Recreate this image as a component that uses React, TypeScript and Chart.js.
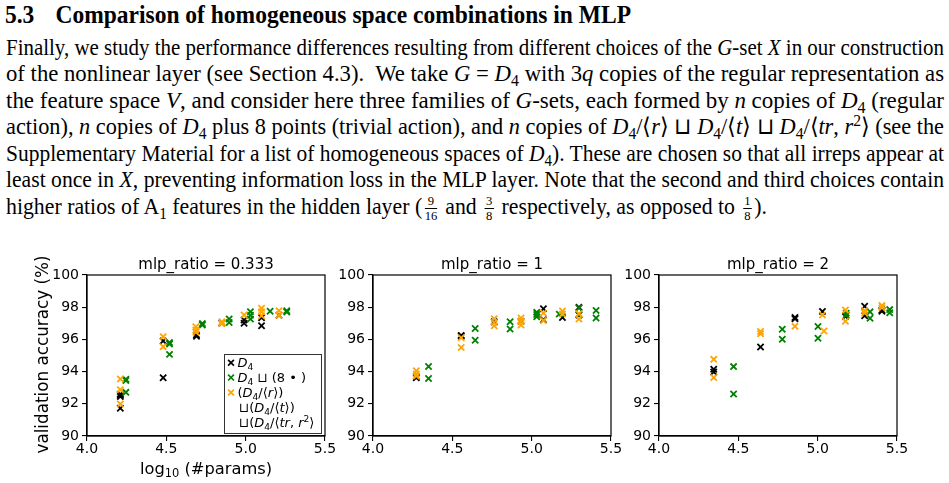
import React, { useEffect, useLayoutEffect, useRef } from 'react';
import { Chart, registerables } from 'chart.js';
Chart.register(...registerables);

// ---------------- data ----------------
const xTicks = [4.0, 4.5, 5.0, 5.5];
const yTicks = [90, 92, 94, 96, 98, 100];
const panelTitles = ['mlp_ratio = 0.333', 'mlp_ratio = 1', 'mlp_ratio = 2'];
const seriesNames = ['D4', 'D4 ⊔ (8 •)', '(D4/⟨r⟩) ⊔(D4/⟨t⟩) ⊔(D4/⟨tr, r²⟩'];
const seriesColors = ['#000000', '#008000', '#ffa500'];

// panel 1 : mlp_ratio = 0.333
const p1RegX = [4.21, 4.21, 4.21, 4.21, 4.48, 4.48, 4.69, 4.69, 4.85, 4.99, 4.99, 5.10, 5.10, 5.21];
const p1RegY = [91.72, 92.45, 92.6, 92.53, 93.62, 95.9, 96.2, 96.28, 97.0, 97.0, 97.2, 97.35, 96.85, 97.5];
const p1TrivX = [4.245, 4.245, 4.245, 4.52, 4.52, 4.52, 4.727, 4.727, 4.896, 4.896, 5.03, 5.03, 5.03, 5.154, 5.259, 5.259];
const p1TrivY = [93.45, 93.52, 92.71, 95.72, 95.8, 95.07, 96.9, 96.98, 97.27, 97.05, 97.72, 97.5, 97.27, 97.75, 97.7, 97.78];
const p1HomX = [4.21, 4.21, 4.21, 4.48, 4.48, 4.686, 4.686, 4.686, 4.85, 4.85, 4.99, 5.10, 5.10, 5.10, 5.21, 5.21];
const p1HomY = [93.54, 92.88, 91.99, 96.17, 95.55, 96.79, 96.58, 96.44, 97.1, 96.98, 97.52, 97.93, 97.72, 97.47, 97.78, 97.5];

// panel 2 : mlp_ratio = 1
const p2RegX = [4.273, 4.273, 4.556, 4.556, 4.764, 4.933, 5.074, 5.074, 5.194, 5.298, 5.298];
const p2RegY = [93.62, 93.7, 96.2, 96.25, 97.1, 97.12, 97.9, 97.22, 97.36, 97.99, 97.52];
const p2TrivX = [4.35, 4.35, 4.644, 4.644, 4.864, 4.864, 5.032, 5.032, 5.032, 5.174, 5.298, 5.298, 5.406, 5.406];
const p2TrivY = [94.32, 93.57, 96.68, 95.95, 97.1, 96.65, 97.68, 97.41, 97.55, 97.57, 97.95, 97.55, 97.79, 97.33];
const p2HomX = [4.273, 4.273, 4.273, 4.556, 4.556, 4.764, 4.764, 4.764, 4.933, 4.933, 4.933, 5.074, 5.074, 5.194, 5.194, 5.298, 5.298];
const p2HomY = [94.05, 93.85, 93.72, 96.1, 95.5, 97.28, 97.05, 96.84, 97.33, 97.12, 96.9, 97.64, 97.18, 97.76, 97.58, 97.6, 97.27];

// panel 3 : mlp_ratio = 2
const p3RegX = [4.345, 4.345, 4.64, 4.857, 4.857, 5.03, 5.175, 5.296, 5.296, 5.405, 5.405];
const p3RegY = [94.14, 93.98, 95.53, 97.36, 97.28, 97.74, 97.42, 98.06, 97.47, 97.82, 97.75];
const p3TrivX = [4.47, 4.47, 4.777, 4.777, 5.002, 5.002, 5.18, 5.18, 5.33, 5.33, 5.454, 5.454];
const p3TrivY = [94.31, 92.61, 96.63, 96.01, 96.8, 96.07, 97.62, 97.5, 97.71, 97.31, 97.85, 97.66];
const p3HomX = [4.345, 4.345, 4.64, 4.64, 4.857, 5.03, 5.04, 5.175, 5.175, 5.296, 5.296, 5.405, 5.405];
const p3HomY = [94.76, 93.63, 96.49, 96.35, 96.81, 97.51, 96.52, 97.83, 97.13, 97.79, 97.64, 98.11, 97.96];

const panelSeries = [
  [[p1RegX, p1RegY], [p1TrivX, p1TrivY], [p1HomX, p1HomY]],
  [[p2RegX, p2RegY], [p2TrivX, p2TrivY], [p2HomX, p2HomY]],
  [[p3RegX, p3RegY], [p3TrivX, p3TrivY], [p3HomX, p3HomY]],
];

// ---------------- rich text on canvas ----------------
type Seg = { t: string; it?: boolean; sub?: boolean; sup?: boolean };
const FAM = '"DejaVu Sans", sans-serif';
function segFont(s: Seg, size: number) {
  const sz = s.sub || s.sup ? size * 0.7 : size;
  return `${s.it ? 'italic ' : ''}${sz}px ${FAM}`;
}
function richWidth(ctx: CanvasRenderingContext2D, segs: Seg[], size: number) {
  let w = 0;
  for (const s of segs) {
    ctx.font = segFont(s, size);
    w += ctx.measureText(s.t).width;
  }
  return w;
}
// y = vertical middle of the text
function drawRich(ctx: CanvasRenderingContext2D, segs: Seg[], x: number, y: number, size: number, align: 'left' | 'center') {
  const w = richWidth(ctx, segs, size);
  let cx = align === 'center' ? x - w / 2 : x;
  const base = y + size * 0.36;
  ctx.textAlign = 'left';
  ctx.textBaseline = 'alphabetic';
  ctx.fillStyle = '#000';
  for (const s of segs) {
    ctx.font = segFont(s, size);
    const dy = s.sub ? size * 0.22 : s.sup ? -size * 0.38 : 0;
    ctx.fillText(s.t, cx, base + dy);
    cx += ctx.measureText(s.t).width;
  }
}

const legendRows: { marker: number | null; segs: Seg[] }[] = [
  { marker: 0, segs: [{ t: 'D', it: true }, { t: '4', sub: true }] },
  { marker: 1, segs: [{ t: 'D', it: true }, { t: '4', sub: true }, { t: ' ⊔ (8 • )' }] },
  { marker: 2, segs: [{ t: '(' }, { t: 'D', it: true }, { t: '4', sub: true }, { t: '/⟨' }, { t: 'r', it: true }, { t: '⟩)' }] },
  { marker: null, segs: [{ t: '⊔(' }, { t: 'D', it: true }, { t: '4', sub: true }, { t: '/⟨' }, { t: 't', it: true }, { t: '⟩)' }] },
  { marker: null, segs: [{ t: '⊔(' }, { t: 'D', it: true }, { t: '4', sub: true }, { t: '/⟨' }, { t: 'tr', it: true }, { t: ', ' }, { t: 'r', it: true }, { t: '2', sup: true }, { t: '⟩' }] },
];

function drawX(ctx: CanvasRenderingContext2D, x: number, y: number, r: number, color: string) {
  ctx.save();
  ctx.strokeStyle = color;
  ctx.lineWidth = 1.7;
  ctx.beginPath();
  ctx.moveTo(x - r, y - r); ctx.lineTo(x + r, y + r);
  ctx.moveTo(x - r, y + r); ctx.lineTo(x + r, y - r);
  ctx.stroke();
  ctx.restore();
}

interface PanelCfg {
  idx: number; left: number; top: number; w: number; h: number;
  yAxisW: number; padRight: number; padTop: number; xAxisH: number;
  showYTitle: boolean; showXTitle: boolean; showLegend: boolean;
}

function Panel({ cfg }: { cfg: PanelCfg }) {
  const ref = useRef<HTMLCanvasElement>(null);
  useEffect(() => {
    const canvas = ref.current!;
    const series = panelSeries[cfg.idx];
    const orders = [2, 1, 0];
    const datasets = series.map(([xs, ys], k) => ({
      label: seriesNames[k],
      data: xs.map((x, i) => ({ x, y: ys[i] })),
      pointStyle: 'crossRot',
      pointRadius: 4.4,
      pointBorderWidth: 1.8,
      borderColor: seriesColors[k],
      backgroundColor: seriesColors[k],
      showLine: false,
      order: orders[k],
    }));
    const deco = {
      id: 'deco',
      afterDraw(chart: any) {
        const ctx: CanvasRenderingContext2D = chart.ctx;
        const a = chart.chartArea;
        ctx.save();
        ctx.strokeStyle = '#000';
        ctx.lineWidth = 1.2;
        ctx.strokeRect(a.left, a.top, a.right - a.left, a.bottom - a.top);
        // title
        drawRich(ctx, [{ t: panelTitles[cfg.idx] }], (a.left + a.right) / 2, a.top - 11, 15, 'center');
        if (cfg.showXTitle) {
          drawRich(ctx, [{ t: 'log' }, { t: '10', sub: true }, { t: ' (#params)' }], (a.left + a.right) / 2, a.bottom + 32, 16.3, 'center');
        }
        if (cfg.showYTitle) {
          ctx.save();
          ctx.translate(a.left - 45, (a.top + a.bottom) / 2 - 1);
          ctx.rotate(-Math.PI / 2);
          drawRich(ctx, [{ t: 'validation accuracy (%)' }], 0, 0, 16.8, 'center');
          ctx.restore();
        }
        if (cfg.showLegend) {
          const bx = a.left + 137, by = a.top + 79, bw = 97, bh = 79;
          ctx.fillStyle = 'rgba(255,255,255,0.85)';
          ctx.fillRect(bx, by, bw, bh);
          ctx.strokeStyle = '#333';
          ctx.lineWidth = 1;
          ctx.strokeRect(bx + 0.5, by + 0.5, bw, bh);
          legendRows.forEach((row, i) => {
            const cy = by + 8.7 + i * 14.9;
            if (row.marker !== null) drawX(ctx, bx + 7, cy, 2.9, seriesColors[row.marker]);
            drawRich(ctx, row.segs, bx + (row.marker !== null ? 13.5 : 15), cy, 13, 'left');
          });
        }
        ctx.restore();
      },
    };
    const tickFont = { family: FAM, size: 14 };
    const chart = new Chart(canvas, {
      type: 'scatter',
      data: { datasets } as any,
      options: {
        responsive: false,
        animation: false,
        devicePixelRatio: 1,
        layout: { padding: { left: 0, right: cfg.padRight, top: cfg.padTop, bottom: 0 } },
        plugins: { legend: { display: false }, tooltip: { enabled: false }, title: { display: false } },
        scales: {
          x: {
            type: 'linear', min: xTicks[0], max: xTicks[xTicks.length - 1],
            afterBuildTicks: (s: any) => { s.ticks = xTicks.map((v) => ({ value: v })); },
            ticks: { callback: (v: any) => Number(v).toFixed(1), font: tickFont, color: '#000', padding: 0, maxRotation: 0, autoSkip: false },
            grid: { display: true, drawOnChartArea: false, drawTicks: true, tickLength: 5, color: '#000', lineWidth: 1.1 },
            border: { display: true, color: '#000', width: 1.2 },
            afterFit: (s: any) => { s.height = cfg.xAxisH; s.paddingLeft = 0; s.paddingRight = 0; },
          },
          y: {
            type: 'linear', min: yTicks[0], max: yTicks[yTicks.length - 1],
            afterBuildTicks: (s: any) => { s.ticks = yTicks.map((v) => ({ value: v })); },
            ticks: { font: tickFont, color: '#000', padding: 3, autoSkip: false },
            grid: { display: true, drawOnChartArea: false, drawTicks: true, tickLength: 5, color: '#000', lineWidth: 1.1 },
            border: { display: true, color: '#000', width: 1.2 },
            afterFit: (s: any) => { s.width = cfg.yAxisW; s.paddingTop = 0; s.paddingBottom = 0; },
          },
        },
      } as any,
      plugins: [deco],
    });
    return () => chart.destroy();
  }, []);
  return (
    <canvas ref={ref} width={cfg.w} height={cfg.h}
      style={{ position: 'absolute', left: cfg.left, top: cfg.top, width: cfg.w, height: cfg.h }} />
  );
}

const panels: PanelCfg[] = [
  { idx: 0, left: 0, top: 245, w: 345, h: 238, yAxisW: 87, padRight: 20, padTop: 30, xAxisH: 47, showYTitle: true, showXTitle: true, showLegend: true },
  { idx: 1, left: 335, top: 245, w: 295, h: 238, yAxisW: 38, padRight: 19, padTop: 30, xAxisH: 47, showYTitle: false, showXTitle: false, showLegend: false },
  { idx: 2, left: 622, top: 245, w: 327, h: 238, yAxisW: 37, padRight: 52, padTop: 30, xAxisH: 47, showYTitle: false, showXTitle: false, showLegend: false },
];

// ---------------- paper text ----------------
const SERIF = '"Liberation Serif", "Times New Roman", serif';
const I = ({ c }: { c: string }) => <i>{c}</i>;
const Sub = ({ c }: { c: string }) => <span style={{ fontSize: '0.7em', verticalAlign: '-0.28em', lineHeight: 0 }}>{c}</span>;
const Sup = ({ c }: { c: string }) => <span style={{ fontSize: '0.7em', verticalAlign: '0.5em', lineHeight: 0 }}>{c}</span>;
const D4 = () => <><I c="D" /><Sub c="4" /></>;
const Frac = ({ n, d }: { n: string; d: string }) => (
  <span style={{ display: 'inline-block', verticalAlign: '-0.45em', textAlign: 'center', fontSize: '0.58em', lineHeight: '1.05em', margin: '0 0.2em' }}>
    <span style={{ display: 'block', borderBottom: '1px solid #000', padding: '0 0.1em' }}>{n}</span>
    <span style={{ display: 'block' }}>{d}</span>
  </span>
);

function FitLine({ top, left, width, size, bold, children }: any) {
  const ref = useRef<HTMLSpanElement>(null);
  useLayoutEffect(() => {
    const el = ref.current;
    if (!el) return;
    el.style.transform = 'none';
    const w = el.getBoundingClientRect().width;
    if (w > 0) el.style.transform = `scaleX(${width / w})`;
  }, [width]);
  return (
    <div style={{ position: 'absolute', top, left, height: 26, lineHeight: '26px', whiteSpace: 'nowrap', fontFamily: SERIF, fontSize: size, fontWeight: bold ? 'bold' : 'normal', color: '#000' }}>
      <span ref={ref} style={{ display: 'inline-block', transformOrigin: '0 50%' }}>{children}</span>
    </div>
  );
}

export default function App() {
  const FS = 23;
  return (
    <div style={{ position: 'fixed', left: 0, top: 0, width: 949, height: 483, background: '#fff', overflow: 'hidden' }}>
      <FitLine top={2} left={5} width={626} size={25} bold>
        <span style={{ marginRight: '0.9em' }}>5.3</span>Comparison of homogeneous space combinations in MLP
      </FitLine>
      <FitLine top={34.5} left={6} width={938} size={FS}>
        Finally, we study the performance differences resulting from different choices of the <I c="G" />-set <I c="X" /> in our construction
      </FitLine>
      <FitLine top={61} left={6} width={938} size={FS}>
        of the nonlinear layer (see Section 4.3).{'\u00a0 '}We take <I c="G" /> = <D4 /> with 3<I c="q" /> copies of the regular representation as
      </FitLine>
      <FitLine top={87.5} left={6} width={938} size={FS}>
        the feature space <I c="V" />, and consider here three families of <I c="G" />-sets, each formed by <I c="n" /> copies of <D4 /> (regular
      </FitLine>
      <FitLine top={114} left={6} width={938} size={FS}>
        action), <I c="n" /> copies of <D4 /> plus 8 points (trivial action), and <I c="n" /> copies of <D4 />/⟨<I c="r" />⟩ ⊔ <D4 />/⟨<I c="t" />⟩ ⊔ <D4 />/⟨<I c="tr" />, <I c="r" /><Sup c="2" />⟩ (see the
      </FitLine>
      <FitLine top={140.5} left={6} width={938} size={FS}>
        Supplementary Material for a list of homogeneous spaces of <D4 />). These are chosen so that all irreps appear at
      </FitLine>
      <FitLine top={167} left={6} width={938} size={FS}>
        least once in <I c="X" />, preventing information loss in the MLP layer. Note that the second and third choices contain
      </FitLine>
      <FitLine top={193.5} left={6} width={761} size={FS}>
        higher ratios of A<Sub c="1" /> features in the hidden layer (<Frac n="9" d="16" /> and <Frac n="3" d="8" /> respectively, as opposed to <Frac n="1" d="8" />).
      </FitLine>
      {panels.map((p) => <Panel key={p.idx} cfg={p} />)}
    </div>
  );
}
